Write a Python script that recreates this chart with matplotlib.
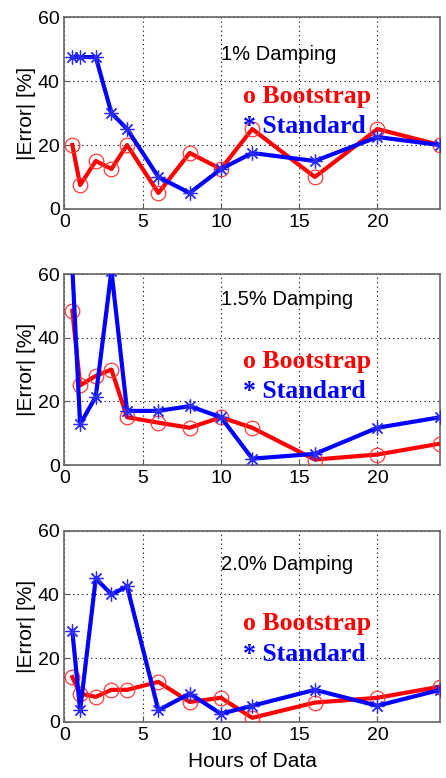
import matplotlib.pyplot as plt
import numpy as np

plt.rcParams['font.family'] = ['Liberation Sans', 'DejaVu Sans']

hours = [0.5, 1, 2, 3, 4, 6, 8, 10, 12, 16, 20, 24]

boot_10 = [20, 7.5, 15, 12.5, 20, 5, 17.5, 12.5, 25, 10, 25, 20]
std_10 = [47.5, 47.5, 47.5, 30, 25, 10, 5, 12.5, 17.5, 15, 22.5, 20]

boot_15 = [48.5, 25, 28, 30, 15, 13.3, 11.7, 15, 11.7, 1.7, 3.3, 6.7]
std_15 = [62, 12.8, 21.5, 61, 17, 17, 18.5, 15, 2, 3.5, 11.7, 15]

boot_20 = [14, 8.8, 7.8, 10, 10, 12.5, 6.2, 7.5, 1.2, 6, 7.5, 11]
std_20 = [28.5, 3.6, 45, 40, 42.5, 3.6, 8.8, 2.5, 5, 10, 5, 10]

labels = ['1% Damping', '1.5% Damping', '2.0% Damping']
boot_all = [boot_10, boot_15, boot_20]
std_all = [std_10, std_15, std_20]
# text anchor heights (data units) for each panel
title_y = [46.6, 50.3, 47.7]
boot_y = [33.1, 30.5, 28.8]
std_y = [23.8, 21.0, 19.1]

fig = plt.figure(figsize=(4.46, 7.78), dpi=100)
boxes = [[0.1446, 0.7314, 0.8419, 0.2466],
         [0.1446, 0.4023, 0.8419, 0.2455],
         [0.1446, 0.0724, 0.8419, 0.2455]]

for i in range(3):
    ax = fig.add_axes(boxes[i])
    ax.plot(hours, boot_all[i], color='red', lw=3, marker='o', ms=10.5,
            mfc='none', mec='#ff3a3a', mew=0.9, zorder=3)
    ax.plot(hours, std_all[i], color='blue', lw=3, marker=(8, 2, 0), ms=10,
            mec='#2a2aff', mew=0.9, zorder=4)
    ax.set_xlim(0, 24)
    ax.set_ylim(0, 60)
    ax.set_xticks([0, 5, 10, 15, 20])
    ax.set_yticks([0, 20, 40, 60])
    ax.grid(True, color='black', linestyle=(0, (1, 3)), lw=0.8)
    ax.tick_params(direction='in', length=4, labelsize=14, color='#555555')
    for s in ax.spines.values():
        s.set_color('#666666')
        s.set_linewidth(1.2)
    ax.set_ylabel('|Error| [%]', fontsize=15, labelpad=1)
    ax.text(10, title_y[i], labels[i], fontsize=14.5, va='baseline')
    ax.text(11.4, boot_y[i], 'o Bootstrap', color='red', fontsize=18.5,
            fontweight='bold', family='Liberation Serif', va='baseline')
    ax.text(11.4, std_y[i], '* Standard', color='blue', fontsize=18.5,
            fontweight='bold', family='Liberation Serif', va='baseline')
    if i == 2:
        ax.set_xlabel('Hours of Data', fontsize=15, labelpad=6)

fig.savefig('out.png', dpi=100)
